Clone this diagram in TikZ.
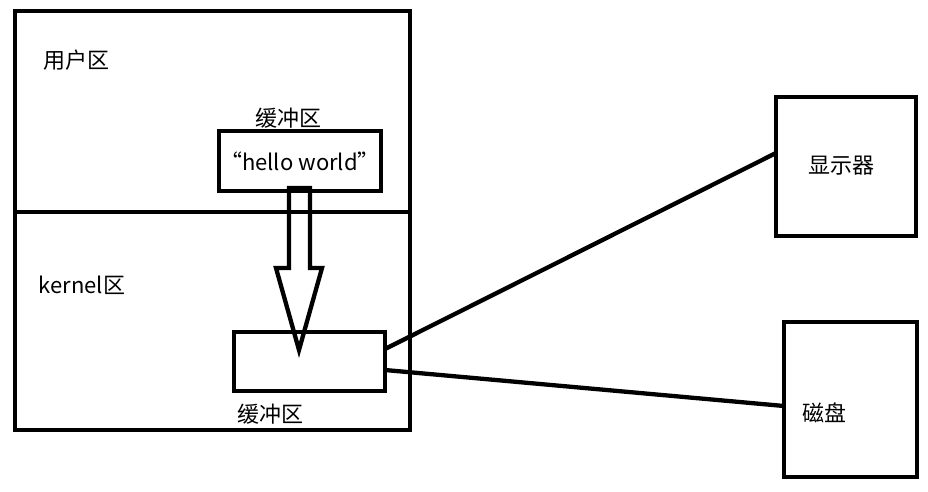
\documentclass[tikz,border=0pt]{standalone}
\usepackage{fontspec}
\setmainfont{Noto Sans CJK SC}
\begin{document}
\begin{tikzpicture}[x=1pt,y=-1pt,
  box/.style={draw=black,line width=4.3pt,inner sep=0pt,outer sep=0pt},
  lbl/.style={font=\fontsize{22}{26}\selectfont,inner sep=0pt},
  wire/.style={draw=black,line width=4.3pt}]
\useasboundingbox[fill=white] (0,0) rectangle (928,491);
% big box
\node[box,minimum width=395pt,minimum height=419pt] (big) at (212.5,220.5) {};
\coordinate (sepL) at (15,212);
\coordinate (sepR) at (410,212);
\draw[wire] (sepL) -- (sepR);
\node[lbl] (user) at (76,60) {用户区};
\node[lbl] (kern) at (82,285) {kernel区};
% user buffer
\node[lbl] (ubl) at (288,118) {缓冲区};
\node[box,minimum width=162pt,minimum height=60pt,font=\fontsize{22}{26}\selectfont] (ubuf) at (300,161) {“hello world”};
% kernel buffer
\node[box,minimum width=151pt,minimum height=59pt] (kbuf) at (309.5,361.5) {};
\node[lbl] (kbl) at (270,414) {缓冲区};
% hollow arrow
\draw[wire,line join=miter] (289,188) -- (289,268) -- (276,268) -- (299,350) -- (322,268) -- (310,268) -- (310,188) -- cycle;
% devices
\node[box,minimum width=140pt,minimum height=139pt] (disp) at (846,166.5) {};
\node[lbl] (displ) at (841,166) {显示器};
\node[box,minimum width=133pt,minimum height=155pt] (disk) at (850.5,399.5) {};
\node[lbl] (diskl) at (824,413) {磁盘};
% connectors
\draw[wire] ([yshift=12.5pt]kbuf.east) -- ([yshift=13.5pt]disp.west);
\draw[wire] ([yshift=-8.5pt]kbuf.east) -- ([yshift=-6.5pt]disk.west);
\end{tikzpicture}
\end{document}
